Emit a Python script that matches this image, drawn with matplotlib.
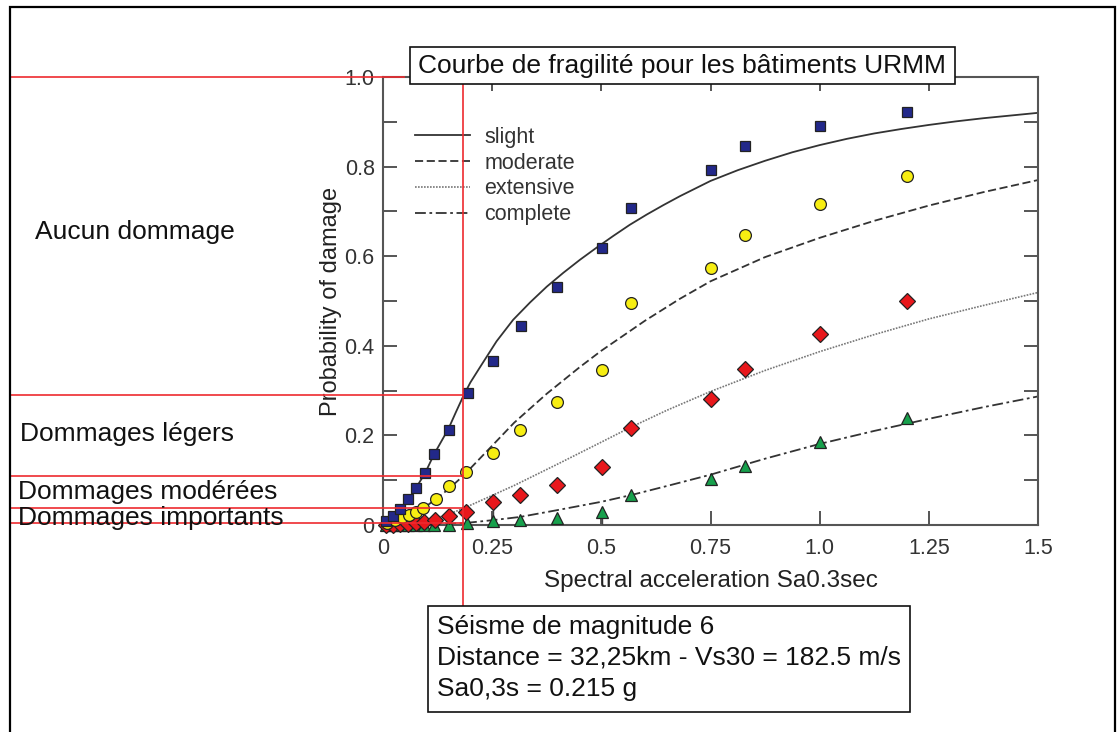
import matplotlib
matplotlib.use("Agg")
import matplotlib.pyplot as plt
from matplotlib.lines import Line2D
from matplotlib.patches import Rectangle
from matplotlib.ticker import MultipleLocator, FixedLocator

plt.rcParams['font.family'] = ['Liberation Sans', 'DejaVu Sans']

# ---------------- data ----------------
# fragility curves
slight_x = [0.0, 0.005, 0.024, 0.040, 0.058, 0.075, 0.096, 0.117, 0.150, 0.167, 0.184, 0.200, 0.222,
            0.260, 0.298, 0.337, 0.375, 0.413, 0.451, 0.489, 0.527, 0.565, 0.604, 0.642, 0.680,
            0.750, 0.8125, 0.875, 0.9375, 1.000, 1.0625, 1.125, 1.1875, 1.250, 1.3125, 1.375,
            1.4375, 1.500]
slight_y = [0.0, 0.0, 0.020, 0.036, 0.057, 0.082, 0.115, 0.158, 0.215, 0.252, 0.288, 0.318, 0.352,
            0.410, 0.458, 0.497, 0.532, 0.563, 0.592, 0.619, 0.645, 0.670, 0.693, 0.714, 0.734,
            0.768, 0.792, 0.813, 0.832, 0.848, 0.862, 0.874, 0.884, 0.893, 0.901, 0.908,
            0.914, 0.920]

moderate_x = [0.0, 0.010, 0.030, 0.060, 0.092, 0.120, 0.150, 0.184, 0.250, 0.300, 0.375, 0.450,
              0.500, 0.600, 0.680, 0.750, 0.875, 1.000, 1.125, 1.250, 1.375, 1.500]
moderate_y = [0.0, 0.0, 0.007, 0.020, 0.037, 0.057, 0.080, 0.110, 0.177, 0.228, 0.293, 0.352,
              0.389, 0.456, 0.505, 0.544, 0.598, 0.641, 0.679, 0.713, 0.743, 0.770]

extensive_x = [0.0, 0.050, 0.100, 0.150, 0.184, 0.250, 0.300, 0.400, 0.500, 0.567, 0.650, 0.750,
               0.875, 1.000, 1.125, 1.250, 1.375, 1.500]
extensive_y = [0.0, 0.002, 0.010, 0.024, 0.037, 0.066, 0.088, 0.136, 0.185, 0.218, 0.256, 0.298,
               0.345, 0.387, 0.425, 0.460, 0.490, 0.519]

complete_x = [0.0, 0.100, 0.184, 0.253, 0.314, 0.398, 0.501, 0.569, 0.650, 0.749, 0.875, 1.000,
              1.125, 1.250, 1.375, 1.500]
complete_y = [0.0, 0.0005, 0.004, 0.011, 0.018, 0.033, 0.052, 0.067, 0.087, 0.112, 0.148, 0.181,
              0.210, 0.237, 0.263, 0.287]

# observed points
sq_x = [0.006, 0.024, 0.040, 0.058, 0.075, 0.096, 0.117, 0.150, 0.195, 0.253, 0.316, 0.399, 0.501,
        0.567, 0.750, 0.830, 1.000, 1.200]
sq_y = [0.009, 0.020, 0.035, 0.057, 0.082, 0.115, 0.158, 0.212, 0.294, 0.366, 0.444, 0.531, 0.619,
        0.707, 0.793, 0.845, 0.891, 0.921]

ci_x = [0.010, 0.027, 0.043, 0.060, 0.076, 0.092, 0.121, 0.151, 0.190, 0.253, 0.314, 0.398, 0.501,
        0.567, 0.750, 0.830, 1.000, 1.200]
ci_y = [0.005, 0.011, 0.017, 0.022, 0.028, 0.037, 0.057, 0.086, 0.119, 0.160, 0.212, 0.275, 0.346,
        0.496, 0.573, 0.648, 0.716, 0.778]

di_x = [0.006, 0.024, 0.040, 0.058, 0.075, 0.094, 0.119, 0.150, 0.190, 0.253, 0.314, 0.398, 0.501,
        0.567, 0.750, 0.830, 1.000, 1.200]
di_y = [0.000, 0.001, 0.002, 0.003, 0.004, 0.007, 0.011, 0.019, 0.028, 0.052, 0.068, 0.089, 0.129,
        0.216, 0.281, 0.349, 0.426, 0.499]

tr_x = [0.006, 0.024, 0.040, 0.058, 0.075, 0.094, 0.117, 0.150, 0.192, 0.253, 0.314, 0.398, 0.501,
        0.569, 0.750, 0.830, 1.000, 1.200]
tr_y = [0.000, 0.000, 0.000, 0.000, 0.000, 0.000, 0.000, 0.000, 0.004, 0.009, 0.012, 0.016, 0.029,
        0.066, 0.102, 0.132, 0.185, 0.239]

stem_x = [0.253, 0.501]
stem_lo = [0.009, 0.000]
stem_hi = [0.045, 0.029]

legend_labels = ['slight', 'moderate', 'extensive', 'complete']
x_ticks = [0, 0.25, 0.5, 0.75, 1.0, 1.25, 1.5]
x_tick_labels = ['0', '0.25', '0.5', '0.75', '1.0', '1.25', '1.5']
y_ticks = [0, 0.2, 0.4, 0.6, 0.8, 1.0]
y_tick_labels = ['0', '0.2', '0.4', '0.6', '0.8', '1.0']

sa_event = 0.184
damage_levels = [0.290, 0.110, 0.038, 0.004]
zone_labels = ['Aucun dommage', 'Dommages légers', 'Dommages modérées', 'Dommages importants']
title_text = 'Courbe de fragilité pour les bâtiments URMM'
info_lines = ['Séisme de magnitude 6', 'Distance = 32,25km - Vs30 = 182.5 m/s', 'Sa0,3s = 0.215 g']

# ---------------- figure ----------------
W, H = 1117, 732
fig = plt.figure(figsize=(W / 100, H / 100), dpi=100)
fig.patch.set_facecolor('white')


def fx(px):
    return px / W


def fy(py):
    return 1 - py / H


ax_l, ax_r, ax_t, ax_b = 383, 1038, 77, 525
ax = fig.add_axes([fx(ax_l), fy(ax_b), (ax_r - ax_l) / W, (ax_b - ax_t) / H])
ax.set_xlim(0, 1.5)
ax.set_ylim(0, 1.0)
ax.set_facecolor('white')

curve_col = '#333333'
ax.plot(slight_x, slight_y, color=curve_col, lw=1.3, ls='-', label=legend_labels[0], zorder=2)
ax.plot(moderate_x, moderate_y, color=curve_col, lw=1.3, ls=(0, (4.5, 2.0)), label=legend_labels[1], zorder=2)
ax.plot(extensive_x, extensive_y, color='#777777', lw=1.2, ls=(0, (1, 0.8)), label=legend_labels[2], zorder=2)
ax.plot(complete_x, complete_y, color=curve_col, lw=1.3, ls=(0, (6, 2, 1.5, 2)), label=legend_labels[3], zorder=2)

ax.vlines(stem_x, stem_lo, stem_hi, color='#444444', lw=1.0, zorder=3)

mk = dict(linestyle='none', markeredgecolor='#222222', markeredgewidth=0.9, clip_on=False, zorder=4)
ax.plot(tr_x, tr_y, marker='^', markersize=8.5, markerfacecolor='#17a04c', **mk)
ax.plot(di_x, di_y, marker='D', markersize=7.8, markerfacecolor='#e8181c', **mk)
ax.plot(ci_x, ci_y, marker='o', markersize=8.5, markerfacecolor='#f7ee12', **mk)
ax.plot(sq_x, sq_y, marker='s', markersize=7, markerfacecolor='#22288a', **mk)

for sp in ax.spines.values():
    sp.set_color('#555555')
    sp.set_linewidth(1.5)

ax.xaxis.set_major_locator(FixedLocator(x_ticks))
ax.set_xticklabels(x_tick_labels)
ax.yaxis.set_major_locator(FixedLocator(y_ticks))
ax.set_yticklabels(y_tick_labels)
ax.yaxis.set_minor_locator(MultipleLocator(0.1))
ax.tick_params(axis='both', which='both', direction='in', length=10, width=1.4, color='#555555',
               top=True, right=True, labelsize=15.5, labelcolor='#333333')
ax.tick_params(axis='x', which='major', pad=9)
ax.tick_params(axis='y', which='major', pad=6)
ax.tick_params(axis='x', which='minor', top=False, bottom=False)

ax.set_xlabel('Spectral acceleration Sa0.3sec', fontsize=17.5, color='#222222', labelpad=8)
ax.set_ylabel('Probability of damage', fontsize=17, color='#222222', labelpad=2)

leg_fs = 15.5
leg = ax.legend(loc='upper left',
                bbox_to_anchor=((415 - ax_l) / (ax_r - ax_l), 1 - (127 - ax_t) / (ax_b - ax_t)),
                frameon=False, fontsize=leg_fs, handlelength=2.56, handletextpad=0.65,
                labelspacing=0.22, borderaxespad=0, borderpad=0)
for t in leg.get_texts():
    t.set_color('#333333')

# ---------------- annotation layer (figure pixel space) ----------------
fig.canvas.draw()
to_fig = ax.transData + fig.transFigure.inverted()
red = '#ee2a2f'
red_lw = 1.2

# top red line at probability 1.0
p1 = to_fig.transform((0, 1.0))
fig.add_artist(Line2D([fx(11), fx(404)], [p1[1], p1[1]], color=red, lw=red_lw, zorder=6))
# intersections of the event Sa with each curve
for lvl in damage_levels:
    p = to_fig.transform((sa_event, lvl))
    fig.add_artist(Line2D([fx(11), p[0]], [p[1], p[1]], color=red, lw=red_lw, zorder=6))
pv = to_fig.transform((sa_event, 0))
fig.add_artist(Line2D([pv[0], pv[0]], [fy(84), fy(606)], color=red, lw=red_lw, zorder=6))

# outer frame
fig.add_artist(Rectangle((fx(10), fy(745)), (1115 - 10) / W, (745 - 7) / H, fill=False,
                         edgecolor='black', lw=1.6, zorder=7))

# title box
fig.add_artist(Rectangle((fx(410), fy(84)), (955 - 410) / W, (84 - 47) / H, facecolor='white',
                         edgecolor='#111111', lw=1.2, zorder=8))
fig.text(fx(418), fy(66), title_text, fontsize=19, color='#111111', va='center', ha='left', zorder=9)

# info box
fig.add_artist(Rectangle((fx(428), fy(712)), (910 - 428) / W, (712 - 606) / H, facecolor='white',
                         edgecolor='#111111', lw=1.2, zorder=8))
for line, yc in zip(info_lines, [627, 658, 689]):
    fig.text(fx(437), fy(yc), line, fontsize=19, color='#111111', va='center', ha='left', zorder=9)

# zone labels
for lab, (xp, yc) in zip(zone_labels, [(35, 232), (20, 434), (18, 492), (18, 518)]):
    fig.text(fx(xp), fy(yc), lab, fontsize=19, color='#111111', va='center', ha='left', zorder=9)

fig.savefig('out.png', dpi=100, facecolor='white')
